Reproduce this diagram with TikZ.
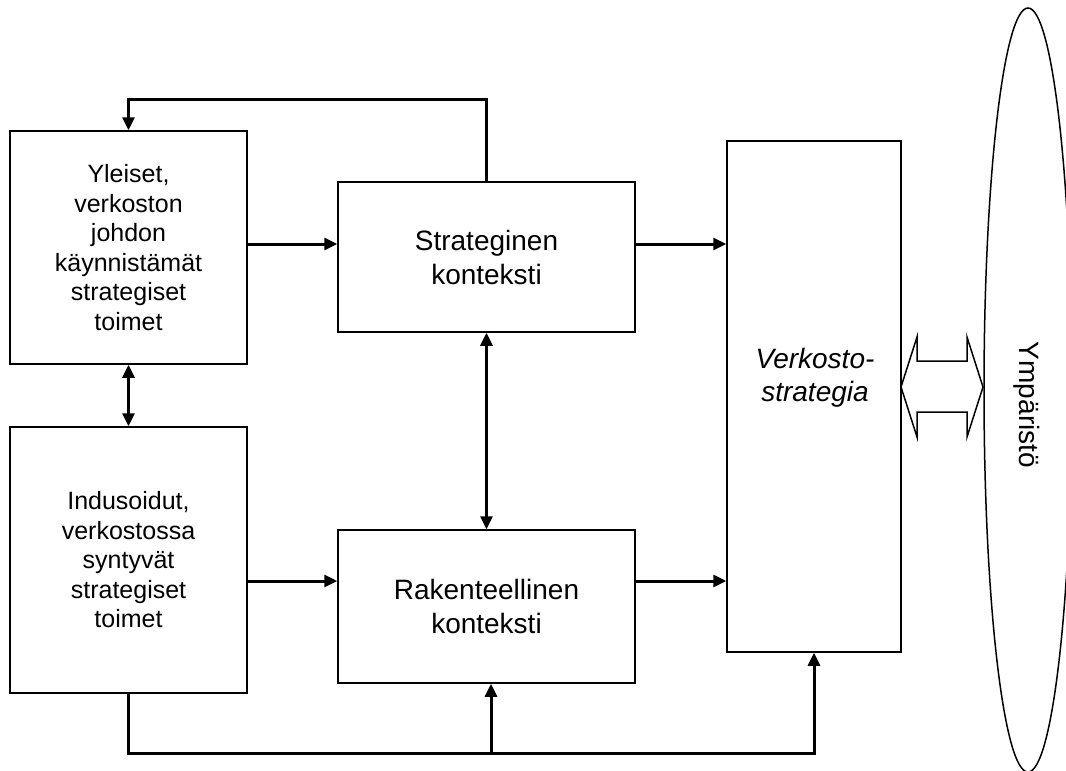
\documentclass[tikz,border=0pt]{standalone}
\usepackage{fontspec}
\setmainfont{Liberation Sans}
\usetikzlibrary{arrows.meta,shapes.geometric}

\tikzset{
  box/.style={draw=black, line width=1.5pt, rectangle, inner sep=0pt, align=center},
  smalltxt/.style={font=\fontsize{25pt}{29.5pt}\selectfont},
  bigtxt/.style={font=\fontsize{28pt}{34pt}\selectfont},
  conn/.style={draw=black, line width=3pt, -{Triangle[length=13pt,width=12pt]}},
  bothconn/.style={draw=black, line width=3pt, {Triangle[length=13pt,width=12pt]}-{Triangle[length=13pt,width=12pt]}},
  plain/.style={draw=black, line width=3pt}
}

\begin{document}
\begin{tikzpicture}[x=1pt, y=-1pt]
\useasboundingbox (0,0) rectangle (1066,771);

% boxes
\node[box, smalltxt, minimum width=237pt, minimum height=233pt] (yleiset) at (128.5,247.5)
  {Yleiset,\\verkoston\\johdon\\käynnistämät\\strategiset\\toimet};
\node[box, smalltxt, minimum width=237pt, minimum height=266pt] (indus) at (128.5,560)
  {Indusoidut,\\verkostossa\\syntyvät\\strategiset\\toimet};
\node[box, bigtxt, minimum width=297pt, minimum height=150pt] (strat) at (486.5,257)
  {Strateginen\\konteksti};
\node[box, bigtxt, minimum width=297pt, minimum height=153pt] (rak) at (486.5,606.5)
  {Rakenteellinen\\konteksti};
\node[box, minimum width=174pt, minimum height=511pt] (verk) at (814,396.5) {};
\node[bigtxt, align=center, font=\fontsize{28pt}{33pt}\selectfont\itshape] (verktext) at (815,378)
  {Verkosto-\\strategia};

% environment
\node[ellipse, draw=black, line width=1.5pt, minimum width=88pt, minimum height=764pt, inner sep=0pt] (env) at (1028,390) {};
\node[bigtxt, rotate=-90] (envtext) at (1027,405) {Ympäristö};

% horizontal flows
\draw[conn] (yleiset.east |- 0,244) -- (strat.west |- 0,244);
\draw[conn] (strat.east |- 0,244) -- (verk.west |- 0,244);
\draw[conn] (indus.east |- 0,581) -- (rak.west |- 0,581);
\draw[conn] (rak.east |- 0,581) -- (verk.west |- 0,581);

% two-way links
\draw[bothconn] (yleiset.south) -- (indus.north);
\draw[bothconn] (strat.south) -- (rak.north);

% feedback over the top
\draw[conn] (strat.north) -- (strat.north |- 0,99) -- (yleiset.north |- 0,99) -- (yleiset.north);

% feed along the bottom
\coordinate (branch) at (491,753);
\draw[conn] (indus.south) -- (indus.south |- 0,753) -- (verk.south |- 0,753) -- (verk.south);
\draw[conn] (branch) -- (branch |- rak.south);

% hollow two-way arrow towards the environment
\draw[line width=1.5pt, line join=miter]
  (901,387) -- (917,337) -- (917,361) -- (967,361) -- (967,337) -- (983,387)
  -- (967,437) -- (967,412) -- (917,412) -- (917,437) -- cycle;
\end{tikzpicture}
\end{document}
